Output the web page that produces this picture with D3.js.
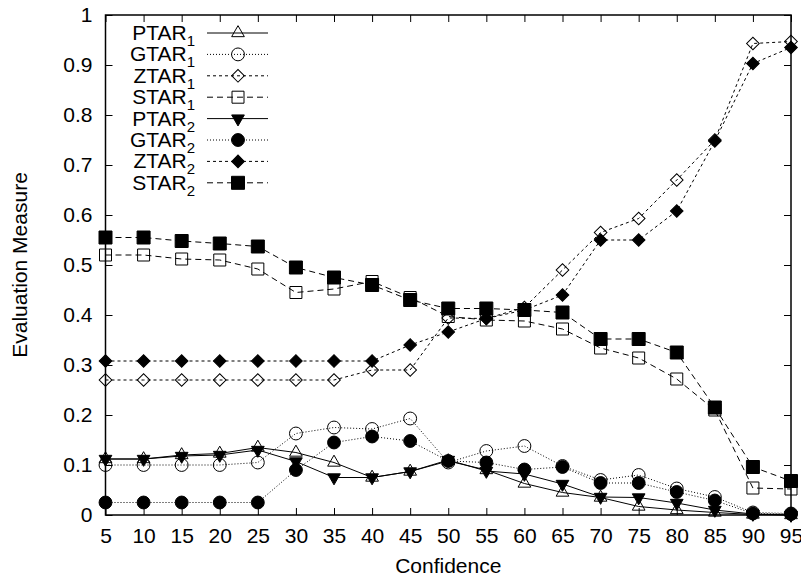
<!DOCTYPE html>
<meta charset="utf-8">
<style>
  body { margin: 0; background: #fff; }
  text { font-family: "Liberation Sans", Arial, sans-serif; fill: #000; }
  .tick line { stroke: #000; stroke-width: 1; }
  .tick text { font-size: 21px; }
  .frame { fill: none; stroke: #000; stroke-width: 1.5; }
</style>
<body>
<script src="https://d3js.org/d3.v7.min.js"></script>
<script>

// confidence levels on the x axis
const confidence = [5, 10, 15, 20, 25, 30, 35, 40, 45, 50, 55, 60, 65, 70, 75, 80, 85, 90, 95];
const yTicks = [0, 0.1, 0.2, 0.3, 0.4, 0.5, 0.6, 0.7, 0.8, 0.9, 1];
const yTickLabels = ["0", "0.1", "0.2", "0.3", "0.4", "0.5", "0.6", "0.7", "0.8", "0.9", "1"];

// series
const ptar1 = [0.112, 0.112, 0.12, 0.123, 0.135, 0.125, 0.105, 0.075, 0.087, 0.108, 0.09, 0.063, 0.045, 0.035, 0.017, 0.01, 0.005, 0.001, 0];
const gtar1 = [0.1, 0.1, 0.1, 0.1, 0.105, 0.163, 0.175, 0.172, 0.193, 0.105, 0.128, 0.138, 0.098, 0.07, 0.08, 0.053, 0.036, 0.005, 0.003];
const ztar1 = [0.27, 0.27, 0.27, 0.27, 0.27, 0.27, 0.27, 0.29, 0.29, 0.394, 0.393, 0.415, 0.49, 0.565, 0.593, 0.67, 0.75, 0.943, 0.947];
const star1 = [0.52, 0.52, 0.512, 0.51, 0.492, 0.445, 0.452, 0.467, 0.435, 0.397, 0.39, 0.388, 0.372, 0.334, 0.314, 0.272, 0.21, 0.054, 0.052];
const ptar2 = [0.112, 0.112, 0.118, 0.12, 0.13, 0.107, 0.075, 0.075, 0.087, 0.11, 0.088, 0.082, 0.062, 0.036, 0.035, 0.024, 0.01, 0.002, 0];
const gtar2 = [0.025, 0.025, 0.025, 0.025, 0.025, 0.09, 0.145, 0.157, 0.148, 0.108, 0.105, 0.091, 0.096, 0.064, 0.064, 0.046, 0.029, 0.003, 0.002];
const ztar2 = [0.308, 0.308, 0.308, 0.308, 0.308, 0.308, 0.308, 0.308, 0.34, 0.366, 0.393, 0.41, 0.44, 0.55, 0.55, 0.608, 0.748, 0.903, 0.935];
const star2 = [0.555, 0.555, 0.548, 0.543, 0.537, 0.495, 0.475, 0.46, 0.43, 0.413, 0.413, 0.41, 0.405, 0.352, 0.352, 0.325, 0.215, 0.096, 0.068];

const seriesNames = ["PTAR", "GTAR", "ZTAR", "STAR", "PTAR", "GTAR", "ZTAR", "STAR"];
const seriesSubs = ["1", "1", "1", "1", "2", "2", "2", "2"];
const seriesValues = [ptar1, gtar1, ztar1, star1, ptar2, gtar2, ztar2, star2];

// gnuplot-ish line types and point types
const dashes = { PTAR: null, GTAR: "1,2", ZTAR: "3,3", STAR: "6,4" };
const markers = {
  PTAR: { type: d3.symbolTriangle, size: 70, rot: 0 },
  GTAR: { type: d3.symbolCircle, size: 130, rot: 0 },
  ZTAR: { type: d3.symbolSquare, size: 80, rot: 45 },
  STAR: { type: d3.symbolSquare, size: 144, rot: 0 }
};

const width = 801, height = 576;
const margin = { top: 15, right: 10, bottom: 61, left: 105.5 };

const svg = d3.select("body").append("svg")
  .attr("width", width)
  .attr("height", height);

const x = d3.scaleLinear().domain([5, 95]).range([margin.left, width - margin.right]);
const y = d3.scaleLinear().domain([0, 1]).range([height - margin.bottom, margin.top]);

// axes, ticks pointing inward on all four sides
svg.append("g")
  .attr("transform", `translate(0,${y(0)})`)
  .call(d3.axisBottom(x).tickValues(confidence).tickFormat(d3.format("d"))
    .tickSizeInner(-7).tickSizeOuter(0).tickPadding(13))
  .call(g => g.select(".domain").remove());

svg.append("g")
  .attr("transform", `translate(0,${y(1)})`)
  .call(d3.axisTop(x).tickValues(confidence).tickFormat("")
    .tickSizeInner(-7).tickSizeOuter(0))
  .call(g => g.select(".domain").remove());

svg.append("g")
  .attr("transform", `translate(${x(5)},0)`)
  .call(d3.axisLeft(y).tickValues(yTicks).tickFormat((d, i) => yTickLabels[i])
    .tickSizeInner(-7).tickSizeOuter(0).tickPadding(13))
  .call(g => g.select(".domain").remove());

svg.append("g")
  .attr("transform", `translate(${x(95)},0)`)
  .call(d3.axisRight(y).tickValues(yTicks).tickFormat("")
    .tickSizeInner(-7).tickSizeOuter(0))
  .call(g => g.select(".domain").remove());

svg.selectAll(".tick text").attr("font-family", null).attr("font-size", null);

svg.append("rect")
  .attr("class", "frame")
  .attr("x", x(5)).attr("y", y(1))
  .attr("width", x(95) - x(5)).attr("height", y(0) - y(1));

// axis titles
svg.append("text")
  .attr("x", (x(5) + x(95)) / 2)
  .attr("y", 573)
  .attr("text-anchor", "middle")
  .style("font-size", "21px")
  .text("Confidence");

svg.append("text")
  .attr("transform", `translate(27,${(y(0) + y(1)) / 2}) rotate(-90)`)
  .attr("text-anchor", "middle")
  .style("font-size", "21px")
  .text("Evaluation Measure");

const line = d3.line()
  .x((d, i) => x(confidence[i]))
  .y(d => y(d));

function drawMarker(g, name, filled, cx, cy) {
  const m = markers[name];
  let rot = m.rot;
  if (name === "PTAR" && filled) rot = 180;
  g.append("path")
    .attr("d", d3.symbol().type(m.type).size(filled && name === "STAR" ? 169 : m.size)())
    .attr("transform", `translate(${cx},${cy}) rotate(${rot})`)
    .attr("fill", filled ? "#000" : "none")
    .attr("stroke", "#000")
    .attr("stroke-width", 1);
}

const plot = svg.append("g");
seriesValues.forEach((vals, k) => {
  const name = seriesNames[k];
  const filled = seriesSubs[k] === "2";
  const g = plot.append("g");
  g.append("path")
    .datum(vals)
    .attr("d", line)
    .attr("fill", "none")
    .attr("stroke", "#000")
    .attr("stroke-width", 1)
    .attr("stroke-dasharray", dashes[name]);
  vals.forEach((v, i) => drawMarker(g, name, filled, x(confidence[i]), y(v)));
});

// legend
const legend = svg.append("g");
seriesNames.forEach((name, k) => {
  const ly = 33 + k * 21.4;
  const filled = seriesSubs[k] === "2";
  const t = legend.append("text")
    .attr("x", 195)
    .attr("y", ly + 7)
    .attr("text-anchor", "end")
    .style("font-size", "21px");
  t.append("tspan").text(name);
  t.append("tspan").attr("dy", 6).style("font-size", "15px").text(seriesSubs[k]);
  legend.append("line")
    .attr("x1", 207).attr("x2", 268)
    .attr("y1", ly).attr("y2", ly)
    .attr("stroke", "#000")
    .attr("stroke-width", 1)
    .attr("stroke-dasharray", dashes[name]);
  drawMarker(legend, name, filled, 238, ly);
});

</script>
</body>
</html>
